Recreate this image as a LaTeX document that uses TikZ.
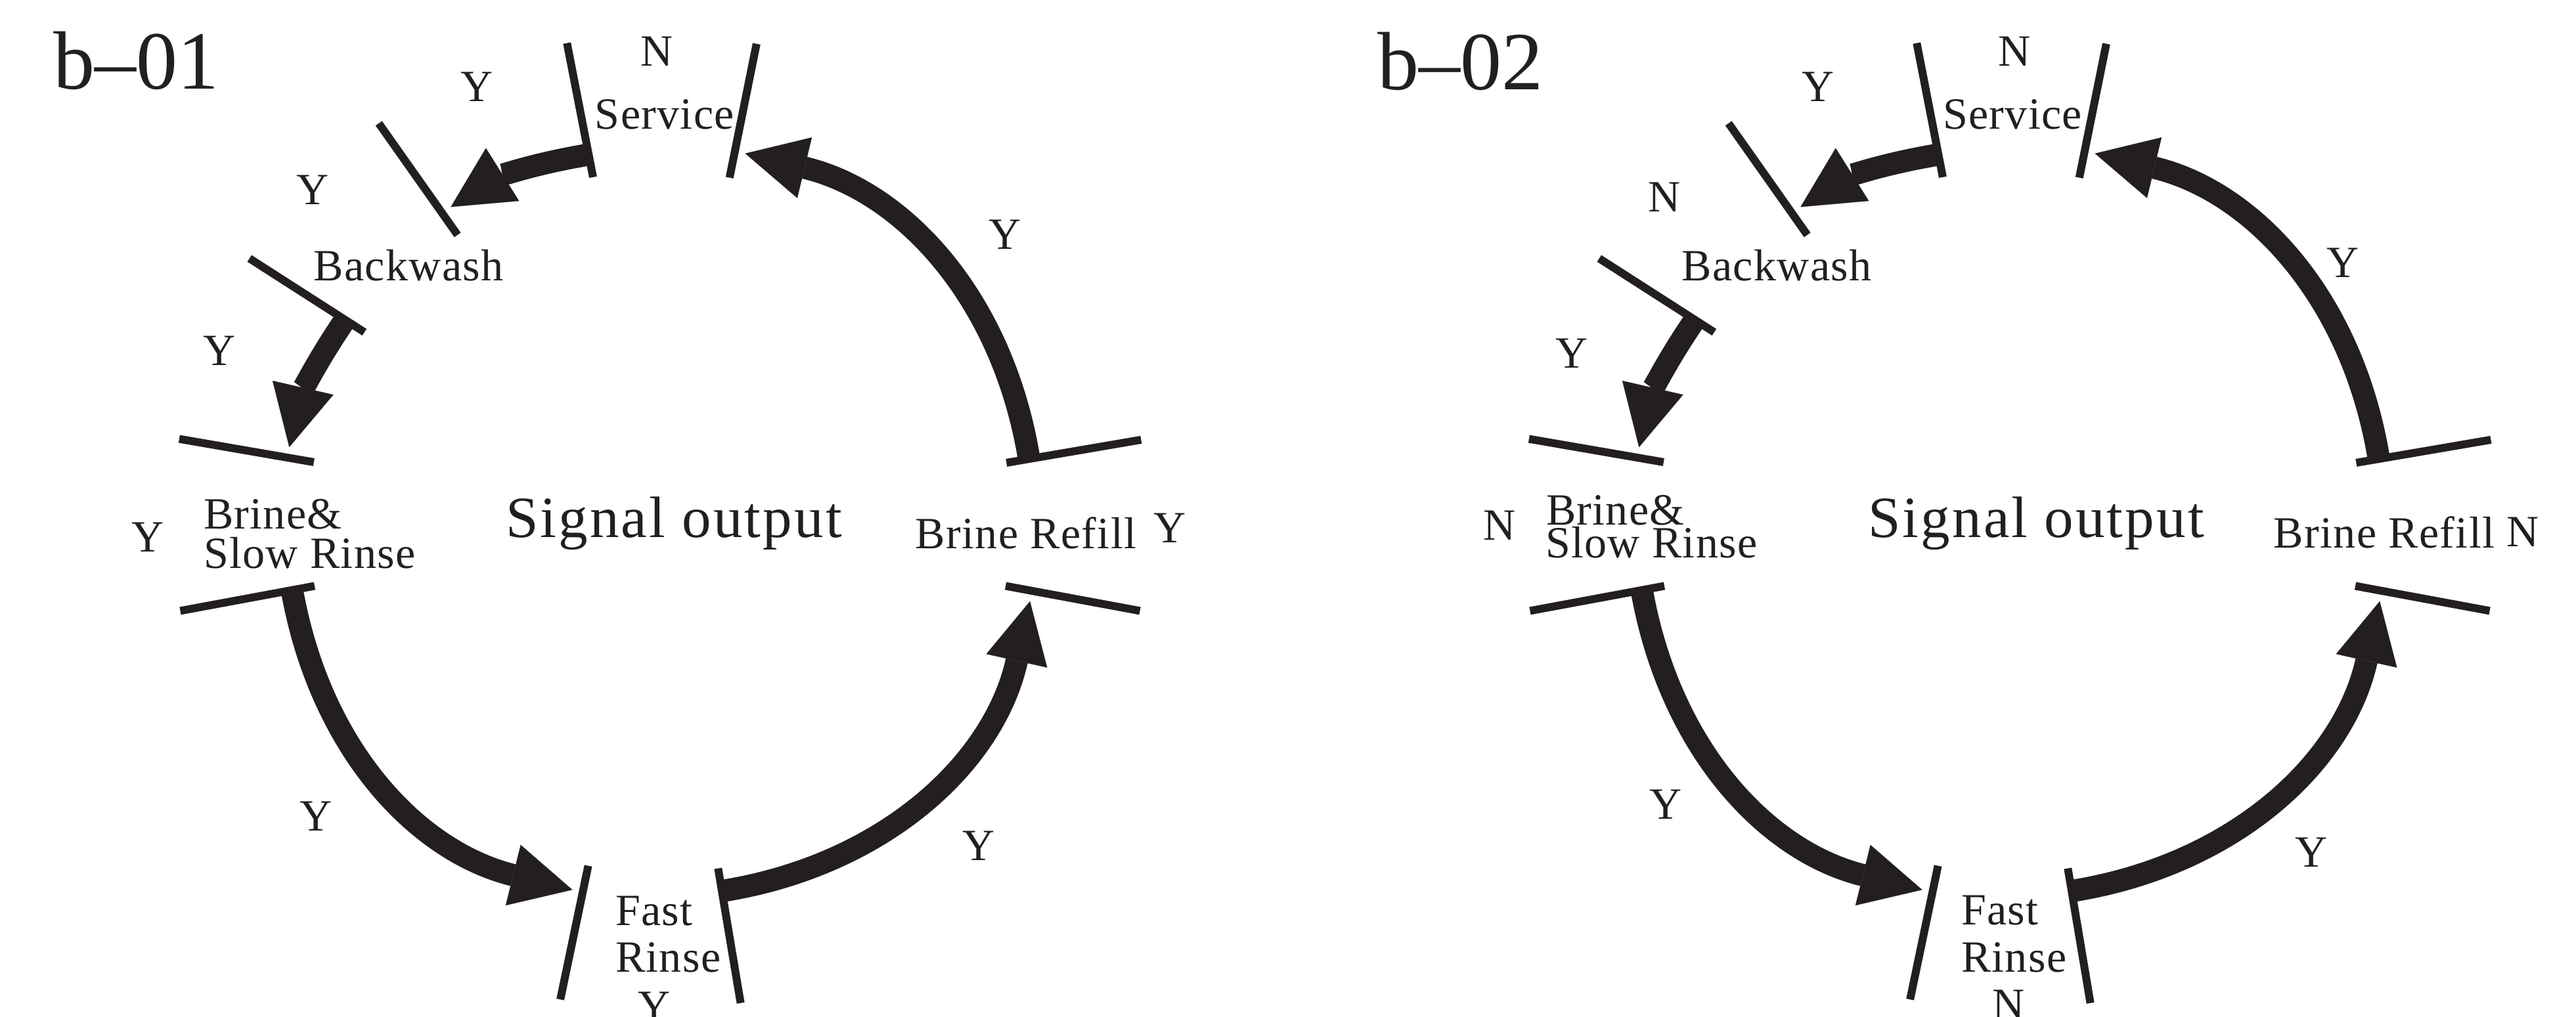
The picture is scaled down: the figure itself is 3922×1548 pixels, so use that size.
\documentclass[tikz,border=0pt]{standalone}
\usepackage{fontspec}
\setmainfont{Liberation Serif}
\newfontfamily\labfont[LetterSpace=2]{Liberation Serif}
\newfontfamily\sigfont[LetterSpace=3.5]{Liberation Serif}
\usetikzlibrary{arrows.meta}
\definecolor{ink}{RGB}{35,31,32}
\newcommand\mytick[2]{%
  \coordinate (#1a) at (#2:535);
  \coordinate (#1b) at (#2:743);
  \draw[ticksty] (#1a) -- (#1b);}
\newcommand\myflow[4]{%
  \coordinate (#1s) at (#2:570);
  \coordinate (#1e) at (#3:576);
  \draw[flowsty] (#1s) to[bend right=#4] (#1e);}
\begin{document}
\begin{tikzpicture}[x=0.5pt,y=0.5pt,
  every node/.style={inner sep=0pt, outer sep=0pt, text=ink},
  ticksty/.style={draw=ink, line width=6pt},
  flowsty/.style={draw=ink, line width=17pt,
    -{Triangle[length=46.5pt,width=47.5pt,line width=0.1pt]}},
  lab/.style={font=\labfont\fontsize{34}{40}\selectfont, anchor=base},
  labw/.style={lab, anchor=base west},
  sig/.style={font=\sigfont\fontsize{44.5}{50}\selectfont, anchor=base},
  ttl/.style={font=\fontsize{63}{70}\selectfont, anchor=base west}]
\fill[white] (0,0) rectangle (3922,1548);
\useasboundingbox (0,0) rectangle (3922,1548);

% ---------------- left diagram ----------------
\begin{scope}[shift={(1005,753)}]
  \mytick{L1}{9.7}
  \mytick{L2}{78.6}
  \mytick{L3}{101}
  \mytick{L4}{125.2}
  \mytick{L5}{147.3}
  \mytick{L6}{170.2}
  \mytick{L7}{190.5}
  \mytick{L8}{258.2}
  \mytick{L9}{279.5}
  \mytick{L10}{349.5}
  \myflow{LA5}{9.7}{77.0}{33.6}
  \myflow{LA1}{101}{123.6}{11.3}
  \myflow{LA2}{147.3}{168.6}{10.7}
  \myflow{LA3}{190.5}{256.6}{33}
  \myflow{LA4}{279.5}{347.9}{34.2}
\end{scope}
\node[ttl] (Ltitle) at (81,1412) {b–01};
\node[lab] (LsN) at (1000,1447) {N};
\node[lab] (Lserv) at (1012,1351) {Service};
\node[lab] (Ly1) at (726,1393) {Y};
\node[lab] (Ly2) at (476,1236) {Y};
\node[lab] (Lback) at (622,1120) {Backwash};
\node[lab] (Ly3) at (334,991) {Y};
\node[labw] (Lbr1) at (310,742) {Brine\&};
\node[labw] (Lbr2) at (310,682) {Slow Rinse};
\node[lab] (Ly4) at (225,707) {Y};
\node[sig] (Lsig) at (1026,729) {Signal output};
\node[lab] (Lref) at (1562,712) {Brine Refill};
\node[lab] (Ly5) at (1781,721) {Y};
\node[lab] (Ly6) at (1530,1168) {Y};
\node[lab] (Ly7) at (1490,238) {Y};
\node[labw] (Lfr1) at (937,139) {Fast};
\node[labw] (Lfr2) at (937,68) {Rinse};
\node[lab] (Ly8) at (996,-7) {Y};
\node[lab] (Ly9) at (481,283) {Y};

% ---------------- right diagram ----------------
\begin{scope}[shift={(3060,753)}]
  \mytick{R1}{9.7}
  \mytick{R2}{78.6}
  \mytick{R3}{101}
  \mytick{R4}{125.2}
  \mytick{R5}{147.3}
  \mytick{R6}{170.2}
  \mytick{R7}{190.5}
  \mytick{R8}{258.2}
  \mytick{R9}{279.5}
  \mytick{R10}{349.5}
  \myflow{RA5}{9.7}{77.0}{33.6}
  \myflow{RA1}{101}{123.6}{11.3}
  \myflow{RA2}{147.3}{168.6}{10.7}
  \myflow{RA3}{190.5}{256.6}{33}
  \myflow{RA4}{279.5}{347.9}{34.2}
\end{scope}
\node[ttl] (Rtitle) at (2097,1411) {b–02};
\node[lab] (RsN) at (3067,1447) {N};
\node[lab] (Rserv) at (3064,1351) {Service};
\node[lab] (Ry1) at (2768,1393) {Y};
\node[lab] (Rn2) at (2534,1225) {N};
\node[lab] (Rback) at (2705,1120) {Backwash};
\node[lab] (Ry3) at (2393,987) {Y};
\node[labw] (Rbr1) at (2354,748) {Brine\&};
\node[labw] (Rbr2) at (2353,698) {Slow Rinse};
\node[lab] (Rn4) at (2283,725) {N};
\node[sig] (Rsig) at (3100,729) {Signal output};
\node[lab] (Rref) at (3630,713) {Brine Refill};
\node[lab] (Rn5) at (3841,715) {N};
\node[lab] (Ry6) at (3567,1125) {Y};
\node[lab] (Ry7) at (3519,228) {Y};
\node[labw] (Rfr1) at (2986,140) {Fast};
\node[labw] (Rfr2) at (2986,68) {Rinse};
\node[lab] (Rn8) at (3058,-4) {N};
\node[lab] (Ry9) at (2536,301) {Y};
\end{tikzpicture}
\end{document}
